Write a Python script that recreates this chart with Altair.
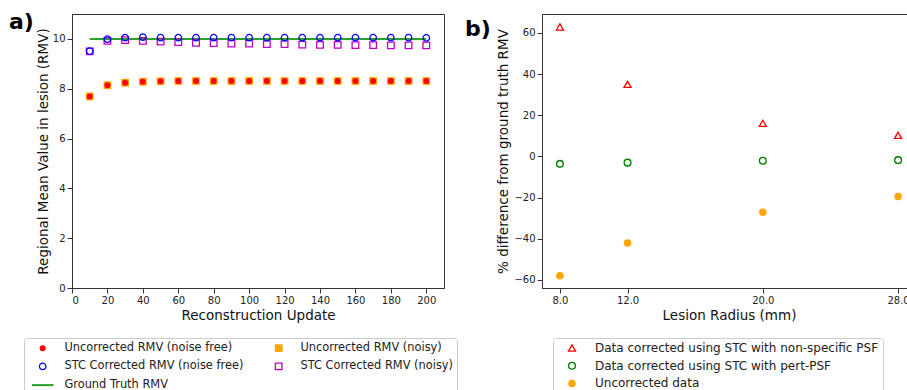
import altair as alt
import pandas as pd

# ---------------- data: panel a ----------------
iterations = [10, 20, 30, 40, 50, 60, 70, 80, 90, 100, 110, 120, 130, 140, 150, 160, 170, 180, 190, 200]
unc_noise_free = [7.69, 8.14, 8.24, 8.28, 8.30, 8.31, 8.31, 8.31, 8.31, 8.31, 8.31, 8.31, 8.31, 8.31, 8.31, 8.31, 8.31, 8.31, 8.31, 8.31]
unc_noisy = [7.69, 8.14, 8.24, 8.28, 8.30, 8.31, 8.31, 8.31, 8.31, 8.31, 8.31, 8.31, 8.31, 8.31, 8.31, 8.31, 8.31, 8.31, 8.31, 8.31]
stc_noise_free = [9.51, 9.99, 10.05, 10.07, 10.05, 10.05, 10.05, 10.05, 10.05, 10.05, 10.05, 10.05, 10.05, 10.05, 10.05, 10.05, 10.05, 10.05, 10.05, 10.04]
stc_noisy = [9.50, 9.92, 9.95, 9.92, 9.89, 9.87, 9.84, 9.83, 9.81, 9.81, 9.79, 9.79, 9.77, 9.76, 9.76, 9.75, 9.75, 9.74, 9.74, 9.74]
ground_truth = [10.0] * len(iterations)

S_UNF = "Uncorrected RMV (noise free)"
S_UN = "Uncorrected RMV (noisy)"
S_SNF = "STC Corrected RMV (noise free)"
S_SN = "STC Corrected RMV (noisy)"
S_GT = "Ground Truth RMV"

# ---------------- data: panel b ----------------
radius = [8.0, 12.0, 20.0, 28.0]
pct_nonspecific = [62.9, 35.0, 16.1, 10.3]
pct_pert = [-3.6, -3.0, -2.1, -1.8]
pct_uncorrected = [-58.0, -42.0, -27.1, -19.5]

R1 = "Data corrected using STC with non-specific PSF"
R2 = "Data corrected using STC with pert-PSF"
R3 = "Uncorrected data"

FONT = "DejaVu Sans"
FRAME = "#333333"

# ---------------- panel a ----------------
rows = []
for name, vals in [(S_UN, unc_noisy), (S_SN, stc_noisy), (S_UNF, unc_noise_free), (S_SNF, stc_noise_free)]:
    for it, v in zip(iterations, vals):
        rows.append({"iter": it, "value": v, "series": name})
df_a = pd.DataFrame(rows)
df_gt = pd.DataFrame({"iter": iterations, "value": ground_truth})

dom_a = [S_UNF, S_UN, S_SNF, S_SN, S_GT]
legend_a = alt.Legend(title=None, orient="none", legendX=-48, legendY=324, columns=2,
                      direction="horizontal", labelFontSize=11.4)

xa = alt.X("iter:Q", scale=alt.Scale(domain=[0, 210], nice=False),
           axis=alt.Axis(values=list(range(0, 201, 20)), title="Reconstruction Update",
                         titlePadding=3))
ya = alt.Y("value:Q", scale=alt.Scale(domain=[0, 11], nice=False),
           axis=alt.Axis(values=[0, 2, 4, 6, 8, 10], title="Regional Mean Value in lesion (RMV)",
                         titlePadding=2))

gt_line = alt.Chart(df_gt).mark_line(color="#2ca02c", strokeWidth=2).encode(x=xa, y=ya)

pts_a = alt.Chart(df_a).mark_point(opacity=1).encode(
    x=xa, y=ya,
    shape=alt.Shape("series:N", scale=alt.Scale(domain=dom_a, range=["circle", "square", "circle", "square", "M-3.6,0H3.6"]), legend=legend_a),
    stroke=alt.Stroke("series:N", scale=alt.Scale(domain=dom_a, range=["red", "orange", "blue", "#bf00bf", "#2ca02c"]), legend=legend_a),
    fill=alt.Fill("series:N", scale=alt.Scale(domain=dom_a, range=["red", "orange", "transparent", "transparent", "transparent"]), legend=legend_a),
    size=alt.Size("series:N", scale=alt.Scale(type="ordinal", domain=dom_a, range=[36, 60, 42, 44, 36]), legend=legend_a),
    strokeWidth=alt.StrokeWidth("series:N", scale=alt.Scale(type="ordinal", domain=dom_a, range=[0, 0, 1.3, 1.3, 2]), legend=legend_a),
)

lab_a = alt.Chart(pd.DataFrame({"t": ["a)"]})).mark_text(
    fontSize=22, fontWeight="bold", font=FONT, align="left", baseline="middle", color="black"
).encode(x=alt.value(-63), y=alt.value(8), text="t:N")

left = alt.layer(gt_line, pts_a, lab_a).properties(width=372, height=274)

# ---------------- panel b ----------------
rows_b = []
for name, vals in [(R1, pct_nonspecific), (R2, pct_pert), (R3, pct_uncorrected)]:
    for r, v in zip(radius, vals):
        rows_b.append({"radius": r, "pct": v, "group": name})
df_b = pd.DataFrame(rows_b)
dom_b = [R1, R2, R3]
legend_b = alt.Legend(title=None, orient="none", legendX=11, legendY=324, direction="vertical",
                      labelFontSize=12, labelOffset=17)

xb = alt.X("radius:Q", scale=alt.Scale(domain=[6.94, 29.06], nice=False, zero=False),
           axis=alt.Axis(values=radius, format=".1f", title="Lesion Radius (mm)", titlePadding=3))
yb = alt.Y("pct:Q", scale=alt.Scale(domain=[-63.9, 69.2], nice=False, zero=False),
           axis=alt.Axis(values=[-60, -40, -20, 0, 20, 40, 60], title="% difference from ground truth RMV",
                         titlePadding=3))

pts_b = alt.Chart(df_b).mark_point(opacity=1).encode(
    x=xb, y=yb,
    shape=alt.Shape("group:N", scale=alt.Scale(domain=dom_b, range=["triangle-up", "circle", "circle"]), legend=legend_b),
    stroke=alt.Stroke("group:N", scale=alt.Scale(domain=dom_b, range=["red", "green", "orange"]), legend=legend_b),
    fill=alt.Fill("group:N", scale=alt.Scale(domain=dom_b, range=["transparent", "transparent", "orange"]), legend=legend_b),
    size=alt.Size("group:N", scale=alt.Scale(type="ordinal", domain=dom_b, range=[50, 46, 56]), legend=legend_b),
    strokeWidth=alt.StrokeWidth("group:N", scale=alt.Scale(type="ordinal", domain=dom_b, range=[1.3, 1.3, 0]), legend=legend_b),
)

lab_b = alt.Chart(pd.DataFrame({"t": ["b)"]})).mark_text(
    fontSize=22, fontWeight="bold", font=FONT, align="left", baseline="middle", color="black"
).encode(x=alt.value(-77), y=alt.value(15), text="t:N")

right = alt.layer(pts_b, lab_b).properties(width=374, height=274)

chart = alt.hconcat(left, right, spacing=98, bounds="flush").resolve_scale(
    x="independent", y="independent", shape="independent", stroke="independent",
    fill="independent", size="independent", strokeWidth="independent"
).resolve_legend(
    shape="independent", stroke="independent", fill="independent", size="independent", strokeWidth="independent"
).properties(
    autosize=alt.AutoSizeParams(type="none"),
    padding={"left": 72, "top": 14, "right": 835, "bottom": 376},
    background="white",
).configure_view(
    stroke=FRAME, strokeWidth=1
).configure_axis(
    grid=False, domainColor=FRAME, tickColor=FRAME, tickSize=5, labelPadding=2,
    labelFont=FONT, labelFontSize=10, labelColor="#222222",
    titleFont=FONT, titleFontSize=13.5, titleFontWeight="normal", titleColor="#111111",
).configure_legend(
    labelFont=FONT, labelFontSize=11.3, labelColor="#222222", labelLimit=400,
    padding=4, symbolOffset=9, labelOffset=16, rowPadding=5.7, columnPadding=20,
    strokeColor="#cccccc", fillColor="white", cornerRadius=3,
)

chart.save("out.html", embed_options={"renderer": "svg", "actions": False})
